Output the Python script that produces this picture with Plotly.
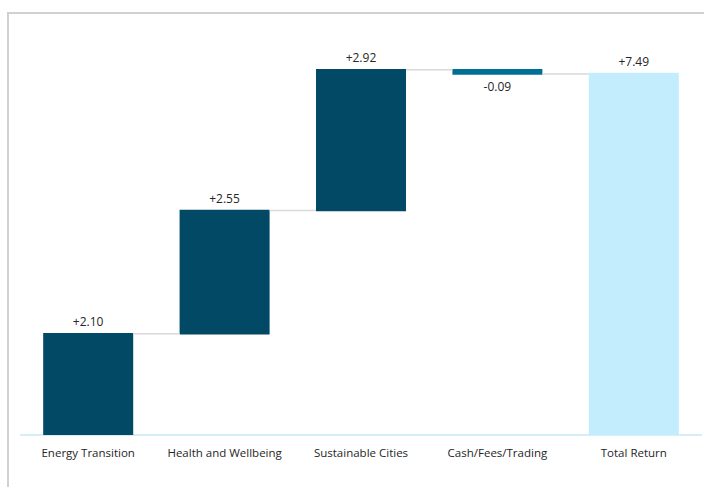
import plotly.graph_objects as go

categories = ["Energy Transition", "Health and Wellbeing", "Sustainable Cities", "Cash/Fees/Trading", "Total Return"]
values = [2.10, 2.55, 2.92, -0.09, 7.49]
measures = ["relative", "relative", "relative", "relative", "absolute"]
labels = ["+2.10", "+2.55", "+2.92", "-0.09", "+7.49"]

fig = go.Figure(go.Waterfall(
    x=categories,
    y=values,
    measure=measures,
    text=labels,
    textposition="outside",
    textfont=dict(family="Open Sans", size=12, color="#262626"),
    increasing=dict(marker=dict(color="#014965")),
    decreasing=dict(marker=dict(color="#016f95")),
    totals=dict(marker=dict(color="#c3edfc")),
    connector=dict(line=dict(color="#d9d9d9", width=1.5)),
    width=0.66,
    cliponaxis=False,
    hoverinfo="skip",
))

# chart frame (decorative border, partially cropped like the reference)
fig.add_shape(type="rect", xref="paper", yref="paper",
              x0=-0.0176, x1=1.05, y0=-0.3, y1=1.0169,
              line=dict(color="#d0d0d0", width=2), fillcolor="rgba(0,0,0,0)", layer="below")

fig.update_layout(
    width=704, height=487,
    margin=dict(l=20, r=2, t=20, b=52),
    paper_bgcolor="white", plot_bgcolor="white",
    showlegend=False,
    font=dict(family="Open Sans", size=11.5, color="#262626"),
    xaxis=dict(showgrid=False, showline=False, ticks="", ticklabelstandoff=9,
               tickfont=dict(size=11.5, color="#262626")),
    yaxis=dict(range=[0, 8.6], visible=True, showgrid=False, showticklabels=False, ticks="",
               zeroline=True, zerolinecolor="#d6eef8", zerolinewidth=2),
)

fig.write_html("out.html", config={"displayModeBar": False},
               post_script="document.body.style.margin='0';document.documentElement.style.overflow='hidden';")
